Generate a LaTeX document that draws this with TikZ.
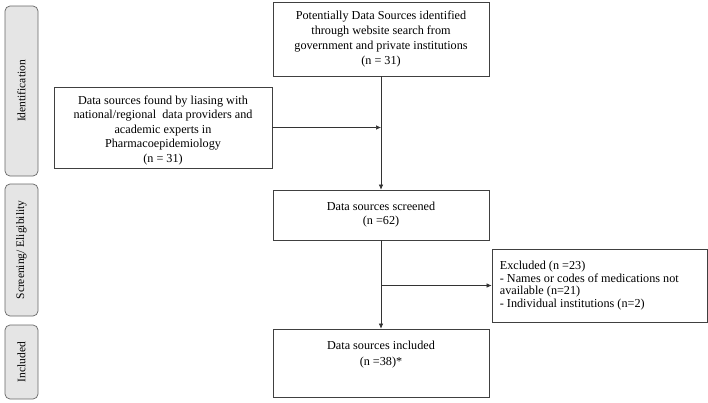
\documentclass[tikz,border=0pt]{standalone}
\usepackage{fontspec}
\setmainfont{Liberation Serif}
\usetikzlibrary{positioning,arrows.meta}

\tikzset{
  box/.style={draw=black!75, line width=0.7pt, inner sep=0pt},
  boxtext/.style={inner sep=0pt, align=center, font=\fontsize{12.2}{14.5}\selectfont},
  stage/.style={draw=black!60, fill=black!10, line width=0.7pt, rounded corners=5pt,
    rotate=90, inner sep=0pt, minimum height=33pt, font=\fontsize{11.5}{13}\selectfont},
  link/.style={draw=black!80, line width=0.6pt},
}

\begin{document}
\begin{tikzpicture}[x=1pt,y=-1pt,>={Latex[length=5pt,width=4.5pt]}]
            \useasboundingbox (0,0) rectangle (708,402);
            % stages
            \node[stage, minimum width=170pt] (ident) at (21.5,91) {Identification};
            \node[stage, minimum width=132pt] (screen) at (21.5,250) {Screening/ Eligibility};
            \node[stage, minimum width=74pt] (incl) at (21.5,362) {Included};
            % boxes
            \node[box, minimum width=216pt, minimum height=74pt] (src) at (381,39) {};
            \node[box, minimum width=218pt, minimum height=81pt] (lit) at (163,127.5) {};
            \node[box, minimum width=216pt, minimum height=50pt] (scr) at (381,215) {};
            \node[box, minimum width=215pt, minimum height=73pt] (exc) at (599.5,285.5) {};
            \node[box, minimum width=216pt, minimum height=68pt] (inc) at (381,363) {};
            % texts
            \node[boxtext, font=\fontsize{12.2}{15}\selectfont, below=9pt of src.north] (srctext) {Potentially Data Sources identified\\through website search from\\government and private institutions\\(n = 31)};
            \node[boxtext, below=9pt of lit.north] (littext) {Data sources found by liasing with\\national/regional\ \ data providers and\\academic experts in\\Pharmacoepidemiology\\(n = 31)};
            \node[boxtext, below=12pt of scr.north] (scrtext) {Data sources screened\\(n =62)};
            \node[boxtext, font=\fontsize{12.2}{12.8}\selectfont, align=left, below right=12pt and 8pt of exc.north west] (exctext) {Excluded (n =23)\\- Names or codes of medications not\\available (n=21)\\- Individual institutions (n=2)};
            \node[boxtext, font=\fontsize{12.2}{16}\selectfont, below=12pt of inc.north] (inctext) {Data sources included\\(n =38)*};
            % connectors
            \coordinate (j1) at (src.south |- lit.east);
            \coordinate (j2) at (scr.south |- exc.west);
            \draw[link,->] (src.south) -- (scr.north);
            \draw[link,->] (lit.east) -- (j1);
            \draw[link,->] (scr.south) -- (inc.north);
            \draw[link,->] (j2) -- (exc.west);
         \end{tikzpicture}
\end{document}
